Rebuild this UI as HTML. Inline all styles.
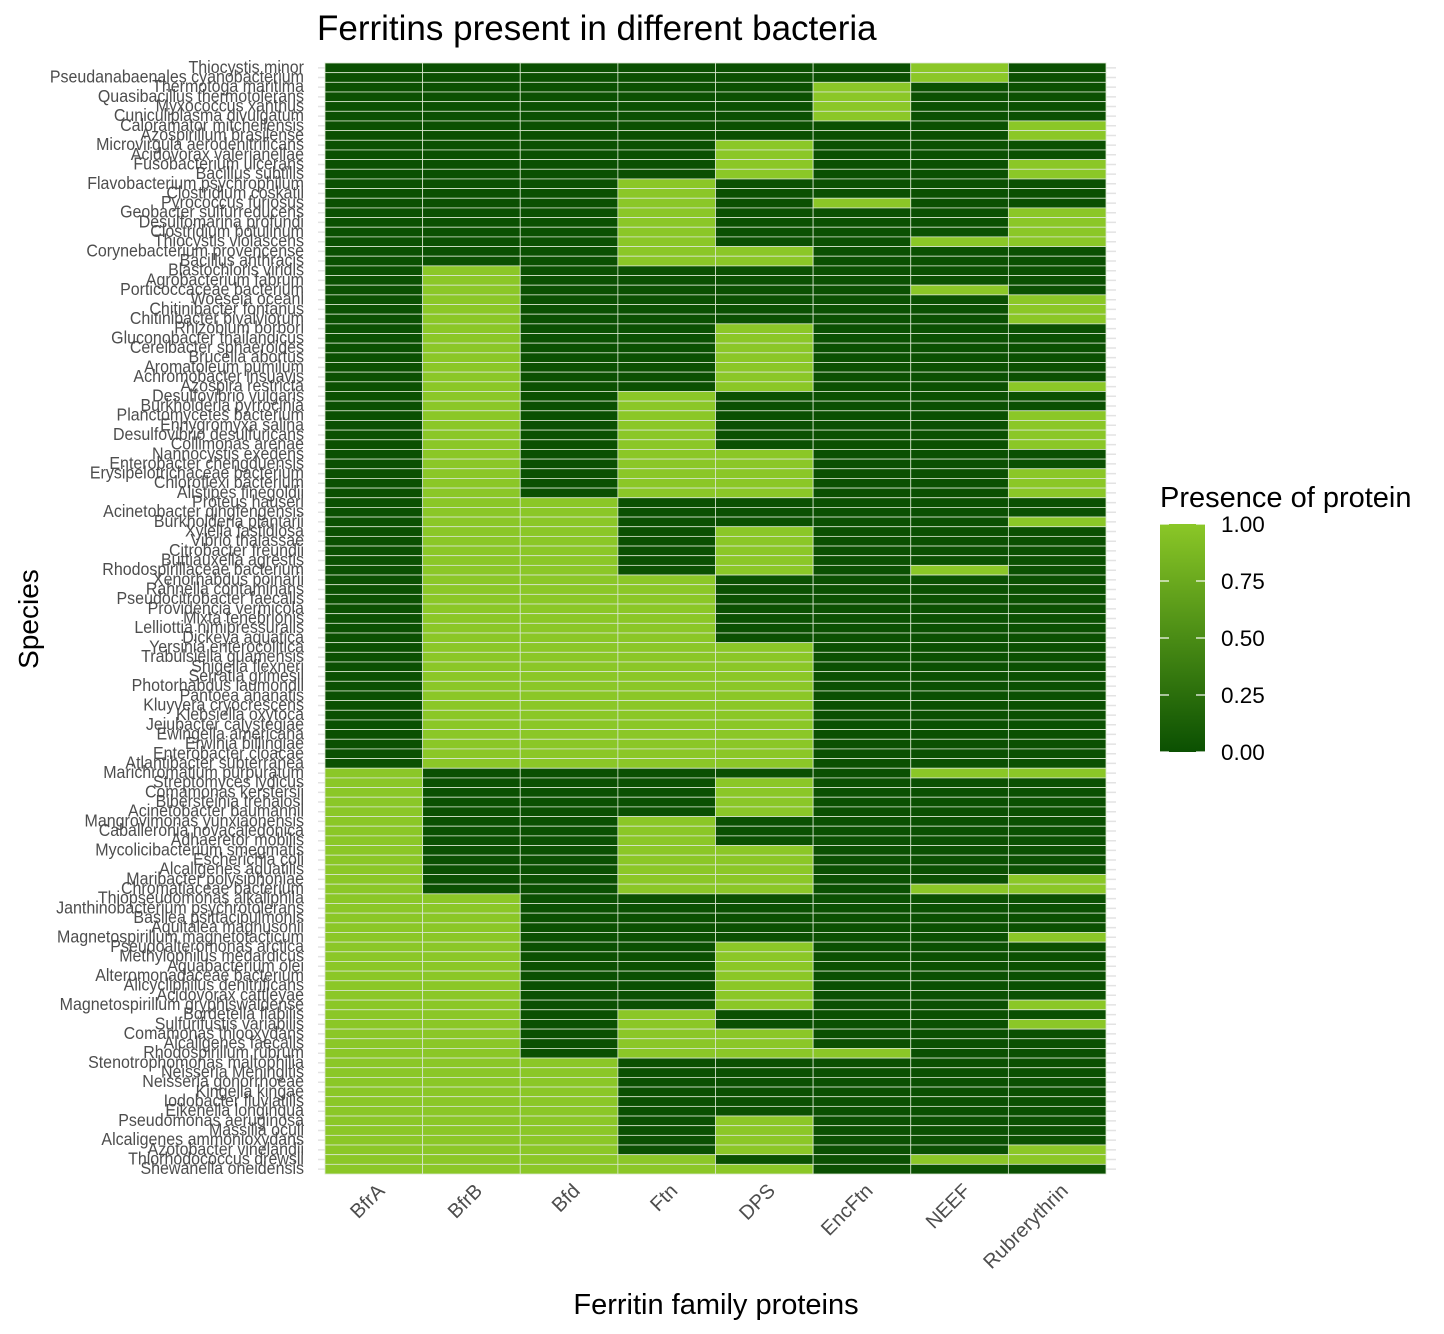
<!DOCTYPE html>
<html><head><meta charset="utf-8">
<style>
html,body{margin:0;padding:0;background:#fff;}
svg{display:block;font-family:"Liberation Sans",Arial,sans-serif;}
</style></head>
<body>
<svg id="chart" width="1444" height="1334" viewBox="0 0 1444 1334" xmlns="http://www.w3.org/2000/svg">
<defs>
<linearGradient id="cbar" x1="0" y1="1" x2="0" y2="0">
<stop offset="0" stop-color="#0b5002"/><stop offset="0.5" stop-color="#4a8c15"/><stop offset="1" stop-color="#8bc727"/>
</linearGradient>
</defs>
<text x="317" y="40" font-size="35" fill="#000">Ferritins present in different bacteria</text>
<g id="grid"></g>
<g id="tiles"></g>
<g id="ylabels"></g>
<g id="xlabels"></g>
<text transform="translate(38,619) rotate(-90)" text-anchor="middle" font-size="28" fill="#000">Species</text>
<text x="716" y="1314" text-anchor="middle" font-size="29" fill="#000">Ferritin family proteins</text>
<g>
<text x="1160" y="507" font-size="29" fill="#000">Presence of protein</text>
<rect x="1160" y="524" width="45" height="228" fill="url(#cbar)"/>
<g id="legendticks"></g>
</g>
</svg>
<script>
const proteins = ["BfrA","BfrB","Bfd","Ftn","DPS","EncFtn","NEEF","Rubrerythrin"];
const species = ["Thiocystis minor","Pseudanabaenales cyanobacterium","Thermotoga maritima","Quasibacillus thermotolerans","Myxococcus xanthus","Cuniculiplasma divulgatum","Caloramator mitchellensis","Azospirillum brasilense","Microvirgula aerodenitrificans","Acidovorax valerianellae","Fusobacterium ulcerans","Bacillus subtilis","Flavobacterium psychrophilum","Clostridium coskatii","Pyrococcus furiosus","Geobacter sulfurreducens","Desulfomarina profundi","Clostridium botulinum","Thiocystis violascens","Corynebacterium provencense","Bacillus anthracis","Blastochloris viridis","Agrobacterium fabrum","Porticoccaceae bacterium","Woeseia oceani","Chitinibacter fontanus","Chitinibacter bivalviorum","Rhizobium borbori","Gluconobacter thailandicus","Cereibacter sphaeroides","Brucella abortus","Aromatoleum pumilum","Achromobacter insuavis","Azospira restricta","Desulfovibrio vulgaris","Burkholderia pyrrocinia","Planctomycetes bacterium","Enhygromyxa salina","Desulfovibrio desulfuricans","Collimonas arenae","Nannocystis exedens","Enterobacter chengduensis","Erysipelotrichaceae bacterium","Chloroflexi bacterium","Alistipes finegoldii","Proteus hauseri","Acinetobacter qingfengensis","Burkholderia plantarii","Xylella fastidiosa","Vibrio thalassae","Citrobacter freundii","Buttiauxella agrestis","Rhodospirillaceae bacterium","Xenorhabdus poinarii","Rahnella contaminans","Pseudocitrobacter faecalis","Providencia vermicola","Mixta tenebrionis","Lelliottia nimipressuralis","Dickeya aquatica","Yersinia enterocolitica","Trabulsiella guamensis","Shigella flexneri","Serratia grimesii","Photorhabdus laumondii","Pantoea ananatis","Kluyvera cryocrescens","Klebsiella oxytoca","Jejubacter calystegiae","Ewingella americana","Erwinia billingiae","Enterobacter cloacae","Atlantibacter subterranea","Marichromatium purpuratum","Streptomyces lydicus","Comamonas kerstersii","Bibersteinia trehalosi","Acinetobacter baumannii","Mangrovimonas yunxiaonensis","Caballeronia novacaledonica","Adhaeretor mobilis","Mycolicibacterium smegmatis","Escherichia coli","Alcaligenes aquatilis","Maribacter polysiphoniae","Chromatiaceae bacterium","Thiopseudomonas alkaliphila","Janthinobacterium psychrotolerans","Basilea psittacipulmonis","Aquitalea magnusonii","Magnetospirillum magnetotacticum","Pseudoalteromonas arctica","Methylophilus medardicus","Aquabacterium olei","Alteromonadaceae bacterium","Alicycliphilus denitrificans","Acidovorax cattleyae","Magnetospirillum gryphiswaldense","Bordetella flabilis","Sulfurifustis variabilis","Comamonas thiooxydans","Alcaligenes faecalis","Rhodospirillum rubrum","Stenotrophomonas maltophilia","Neisseria Meningitis","Neisseria gonorrhoeae","Kingella kingae","Iodobacter fluviatilis","Eikenella longinqua","Pseudomonas aeruginosa","Massilia oculi","Alcaligenes ammonioxydans","Azotobacter vinelandii","Thiorhodococcus drewsii","Shewanella oneidensis"];
const presence = ["00000010","00000010","00000100","00000100","00000100","00000100","00000001","00000001","00001000","00001000","00001001","00001001","00010000","00010000","00010100","00010001","00010001","00010001","00010011","00011000","00011000","01000000","01000000","01000010","01000001","01000001","01000001","01001000","01001000","01001000","01001000","01001000","01001000","01001001","01010000","01010000","01010001","01010001","01010001","01010001","01011000","01011000","01011001","01011001","01011001","01100000","01100000","01100001","01101000","01101000","01101000","01101000","01101010","01110000","01110000","01110000","01110000","01110000","01110000","01110000","01111000","01111000","01111000","01111000","01111000","01111000","01111000","01111000","01111000","01111000","01111000","01111000","01111000","10000011","10001000","10001000","10001000","10001000","10010000","10010000","10010000","10011000","10011000","10011000","10011001","10011011","11000000","11000000","11000000","11000000","11000001","11001000","11001000","11001000","11001000","11001000","11001000","11001001","11010000","11010001","11011000","11011000","11011100","11100000","11100000","11100000","11100000","11100000","11100000","11101000","11101000","11101000","11101001","11110011","11111000"];
const legendTicks = [0, 0.25, 0.5, 0.75, 1];
const legendTickLabels = ["0.00","0.25","0.50","0.75","1.00"];

const NS = "http://www.w3.org/2000/svg";
const X0 = 325, X1 = 1106, Y0 = 63, Y1 = 1174;
const colW = (X1 - X0) / proteins.length;
const rowH = (Y1 - Y0) / species.length;
const xScale = i => X0 + i * colW;
const yScale = j => Y0 + j * rowH;
function colorFor(v){ return v >= 0.5 ? "#8bc727" : "#0b5002"; }
function mk(tag, attrs, parent){ const e = document.createElementNS(NS, tag); for (const k in attrs) e.setAttribute(k, attrs[k]); parent.appendChild(e); return e; }

const grid = document.getElementById("grid");
species.forEach((s, j) => {
  const yc = yScale(j) + rowH / 2;
  const gl = mk("line", {x1: 318, x2: 1116, y1: yc, y2: yc, stroke: "#e3e3e3", "stroke-width": 1.5}, grid);
  
  
});

const tiles = document.getElementById("tiles");
species.forEach((s, j) => {
  proteins.forEach((p, i) => {
    const v = Number(presence[j][i]);
    const r = mk("rect", {x: xScale(i), y: yScale(j), width: colW, height: rowH, fill: colorFor(v), stroke: "#d9e6cf", "stroke-width": 0.8}, tiles);
    
    
  });
});

const yl = document.getElementById("ylabels");
species.forEach((s, j) => {
  const t = mk("text", {transform: "translate(304," + (yScale(j) + rowH / 2 + 5) + ") scale(0.97,1.05)", "text-anchor": "end", "font-size": 16.5, fill: "#4d4d4d"}, yl);
  t.textContent = s;
  
  
});

const xl = document.getElementById("xlabels");
proteins.forEach((p, i) => {
  const cx = xScale(i) + colW / 2;
  const t = mk("text", {transform: "translate(" + (cx + 12) + ",1192) rotate(-45)", "text-anchor": "end", "font-size": 20, fill: "#4d4d4d"}, xl);
  t.textContent = p;
  
  
});

const lt = document.getElementById("legendticks");
const LB0 = 752, LB1 = 524;
legendTicks.forEach((v, k) => {
  const y = LB0 + (LB1 - LB0) * v;
  const a = mk("line", {x1: 1160, x2: 1169, y1: y, y2: y, stroke: "#fff", "stroke-width": 1.2}, lt);
  
  
  const b = mk("line", {x1: 1196, x2: 1205, y1: y, y2: y, stroke: "#fff", "stroke-width": 1.2}, lt);
  
  
  const t = mk("text", {x: 1221, y: y + 8, "font-size": 22.5, fill: "#000"}, lt);
  t.textContent = legendTickLabels[k];
  
  
});
</script>
</body></html>
